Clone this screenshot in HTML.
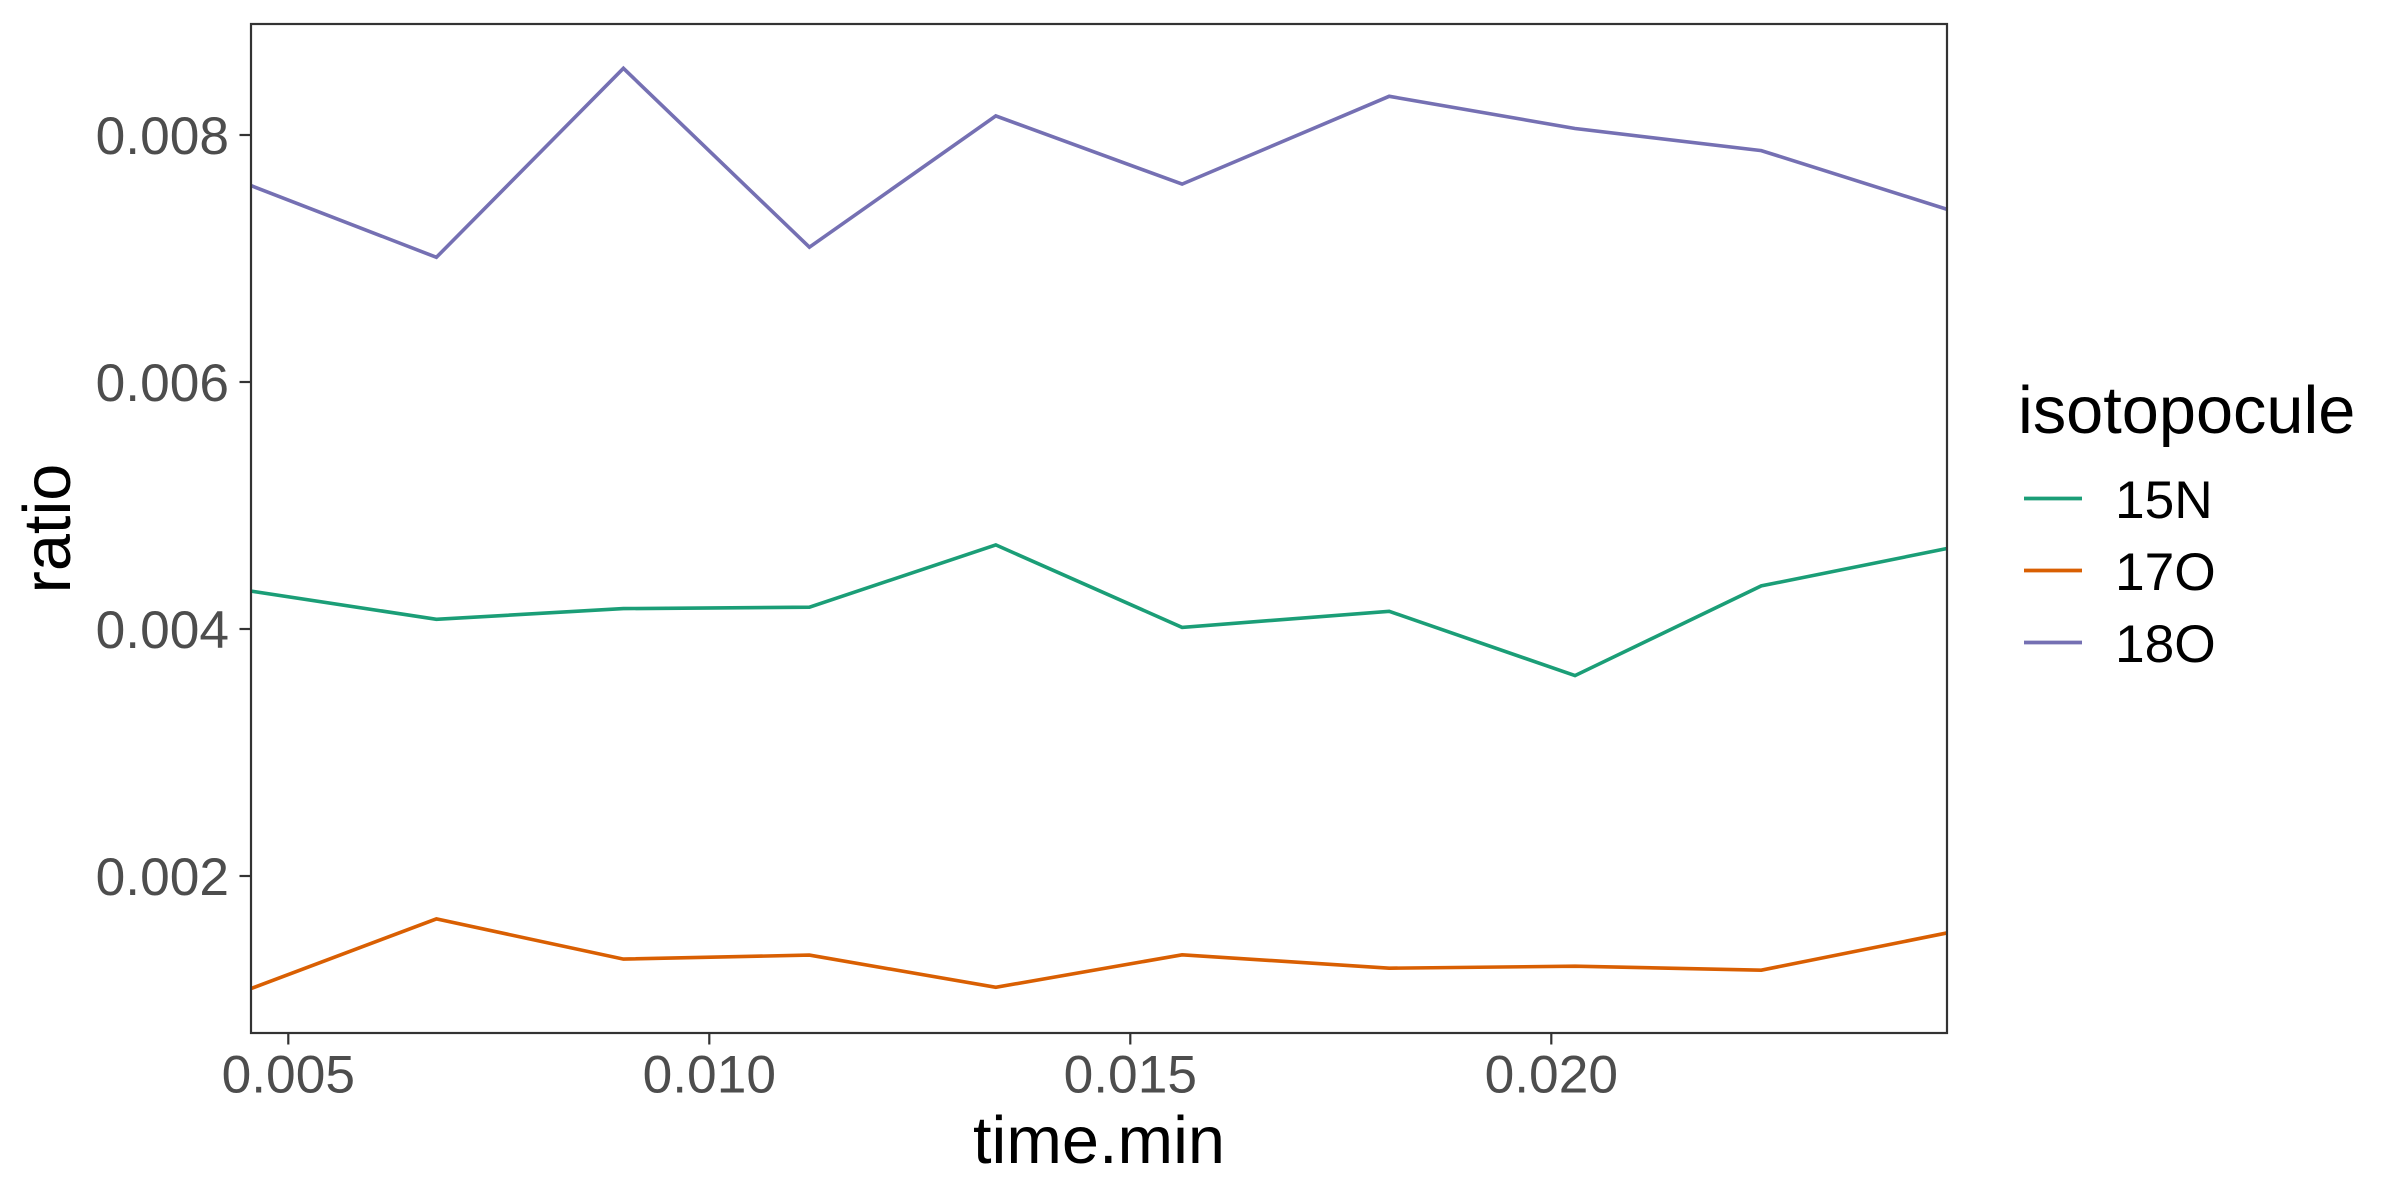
<!DOCTYPE html>
<html>
<head>
<meta charset="utf-8">
<style>
  html, body { margin: 0; padding: 0; background: #ffffff; }
  svg { display: block; }
  text { font-family: "Liberation Sans", Arial, sans-serif; }
</style>
</head>
<body>
<svg width="2400" height="1200" viewBox="0 0 2400 1200" xmlns="http://www.w3.org/2000/svg">
  <rect x="0" y="0" width="2400" height="1200" fill="#ffffff"/>

  <!-- data lines -->
  <polyline fill="none" stroke="#7570B3" stroke-width="3.6" stroke-linejoin="miter"
    points="251,185.6 436.4,257.3 623.4,68.3 809.4,247.2 995.8,115.9 1182.1,184.1 1389.2,96.3 1575.0,128.5 1761.3,150.6 1947.6,209.5"/>
  <polyline fill="none" stroke="#1B9E77" stroke-width="3.6" stroke-linejoin="miter"
    points="251,591.1 436.4,619.3 623.4,608.6 809.4,607.2 995.8,544.9 1182.1,627.4 1389.2,611.3 1575.0,675.6 1761.3,585.9 1947.6,548.4"/>
  <polyline fill="none" stroke="#D95F02" stroke-width="3.6" stroke-linejoin="miter"
    points="251,988.6 436.4,918.9 623.4,959.1 809.4,955.1 995.8,987.3 1182.1,954.8 1389.2,968.2 1575.0,966.2 1761.3,970.2 1947.6,932.8"/>

  <!-- panel border -->
  <rect x="251" y="24" width="1696" height="1009" fill="none" stroke="#333333" stroke-width="2.2"/>

  <!-- y ticks -->
  <g stroke="#333333" stroke-width="2.2">
    <line x1="239.5" y1="135" x2="251" y2="135"/>
    <line x1="239.5" y1="382" x2="251" y2="382"/>
    <line x1="239.5" y1="629" x2="251" y2="629"/>
    <line x1="239.5" y1="876" x2="251" y2="876"/>
  </g>
  <g fill="#4D4D4D" font-size="53.3" text-anchor="end">
    <text x="229" y="154">0.008</text>
    <text x="229" y="401">0.006</text>
    <text x="229" y="648">0.004</text>
    <text x="229" y="895">0.002</text>
  </g>

  <!-- x ticks -->
  <g stroke="#333333" stroke-width="2.2">
    <line x1="288.3" y1="1033" x2="288.3" y2="1044.5"/>
    <line x1="709.3" y1="1033" x2="709.3" y2="1044.5"/>
    <line x1="1130.3" y1="1033" x2="1130.3" y2="1044.5"/>
    <line x1="1551.3" y1="1033" x2="1551.3" y2="1044.5"/>
  </g>
  <g fill="#4D4D4D" font-size="53.3" text-anchor="middle">
    <text x="288.3" y="1092.5">0.005</text>
    <text x="709.3" y="1092.5">0.010</text>
    <text x="1130.3" y="1092.5">0.015</text>
    <text x="1551.3" y="1092.5">0.020</text>
  </g>

  <!-- axis titles -->
  <text x="1099" y="1163" font-size="66.7" text-anchor="middle" fill="#000000">time.min</text>
  <text transform="translate(70,528.5) rotate(-90)" x="0" y="0" font-size="66.7" text-anchor="middle" fill="#000000">ratio</text>

  <!-- legend -->
  <text x="2018" y="433" font-size="66.7" fill="#000000">isotopocule</text>
  <line x1="2024" y1="498.5" x2="2082" y2="498.5" stroke="#1B9E77" stroke-width="3.8"/>
  <line x1="2024" y1="570.5" x2="2082" y2="570.5" stroke="#D95F02" stroke-width="3.8"/>
  <line x1="2024" y1="642.5" x2="2082" y2="642.5" stroke="#7570B3" stroke-width="3.8"/>
  <g font-size="53.3" fill="#000000">
    <text x="2115" y="518">15N</text>
    <text x="2115" y="590">17O</text>
    <text x="2115" y="662">18O</text>
  </g>
</svg>
</body>
</html>
